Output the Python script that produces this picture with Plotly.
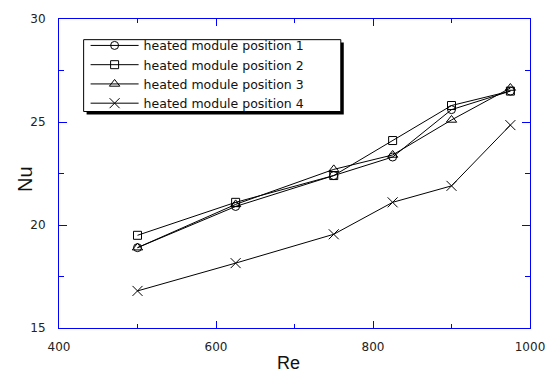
import plotly.graph_objects as go

re_vals = [500, 625, 750, 825, 900, 975]
nu_pos1 = [18.9, 20.9, 22.4, 23.3, 25.6, 26.5]
nu_pos2 = [19.5, 21.1, 22.4, 24.1, 25.8, 26.5]
nu_pos3 = [18.9, 21.0, 22.7, 23.4, 25.1, 26.65]
nu_pos4 = [16.8, 18.15, 19.55, 21.1, 21.9, 24.85]
series_names = ["heated module position 1", "heated module position 2",
                "heated module position 3", "heated module position 4"]
symbols = ["circle-open", "square-open", "triangle-up-open", "x-thin-open"]
x_ticks = [400, 600, 800, 1000]
y_ticks = [15, 20, 25, 30]

W, H = 557, 376
L, R, T, B = 59, 20, 14, 48
pw, ph = W - L - R, H - T - B


def px(xp):
    return (xp - L) / pw


def py(yp):
    return (H - B - yp) / ph


fig = go.Figure()
for name, ys, sym in zip(series_names, [nu_pos1, nu_pos2, nu_pos3, nu_pos4], symbols):
    size = 10 if sym.startswith("x") else (9 if sym.startswith("tri") else 8)
    fig.add_trace(go.Scatter(
        x=re_vals, y=ys, name=name, mode="lines+markers",
        line=dict(color="black", width=1),
        marker=dict(symbol=sym, size=size,
                    color="black", line=dict(color="black", width=1)),
    ))

axis_common = dict(
    showgrid=False, zeroline=False, showline=True, linecolor="#0000ff", linewidth=1,
    mirror="allticks", ticks="inside", tickcolor="#0000ff", tickwidth=1,
    tickfont=dict(family="DejaVu Sans", size=12, color="#222222"),
)
fig.update_xaxes(range=[400, 1000], tickvals=x_ticks, ticklen=7,
                 minor=dict(dtick=100, ticks="inside", ticklen=4, tickcolor="#0000ff", tickwidth=1),
                 ticklabelstandoff=8, **axis_common)
fig.update_yaxes(range=[15, 30], tickvals=y_ticks, ticklen=8,
                 minor=dict(dtick=2.5, ticks="inside", ticklen=5, tickcolor="#0000ff", tickwidth=1),
                 ticklabelstandoff=10, **axis_common)

# legend box with drop shadow (drawn as shapes below the legend)
fig.add_shape(type="rect", xref="paper", yref="paper",
              x0=px(87), x1=px(348), y0=py(111), y1=py(38),
              fillcolor="black", line=dict(width=0), layer="above")
fig.add_shape(type="rect", xref="paper", yref="paper",
              x0=px(84), x1=px(345), y0=py(108), y1=py(35),
              fillcolor="white", line=dict(color="black", width=1), layer="above")

fig.add_annotation(text="Nu", xref="paper", yref="paper", x=px(25), y=py(176),
                   textangle=-90, showarrow=False, xanchor="center", yanchor="middle",
                   font=dict(family="Liberation Sans", size=20, color="#111111"))
fig.add_annotation(text="Re", xref="paper", yref="paper", x=px(292), y=py(364),
                   showarrow=False, xanchor="center", yanchor="middle",
                   font=dict(family="Liberation Sans", size=18, color="#111111"))

fig.update_layout(
    width=W, height=H, margin=dict(l=L, r=R, t=T, b=B),
    paper_bgcolor="white", plot_bgcolor="white",
    showlegend=True,
    legend=dict(x=px(86), y=py(26), xanchor="left", yanchor="top",
                bgcolor="rgba(0,0,0,0)", borderwidth=0,
                font=dict(family="DejaVu Sans", size=12.5, color="#111111"),
                itemwidth=48),
)
fig.write_html("out.html", config={"displayModeBar": False},
               post_script="document.body.style.margin='0';")
